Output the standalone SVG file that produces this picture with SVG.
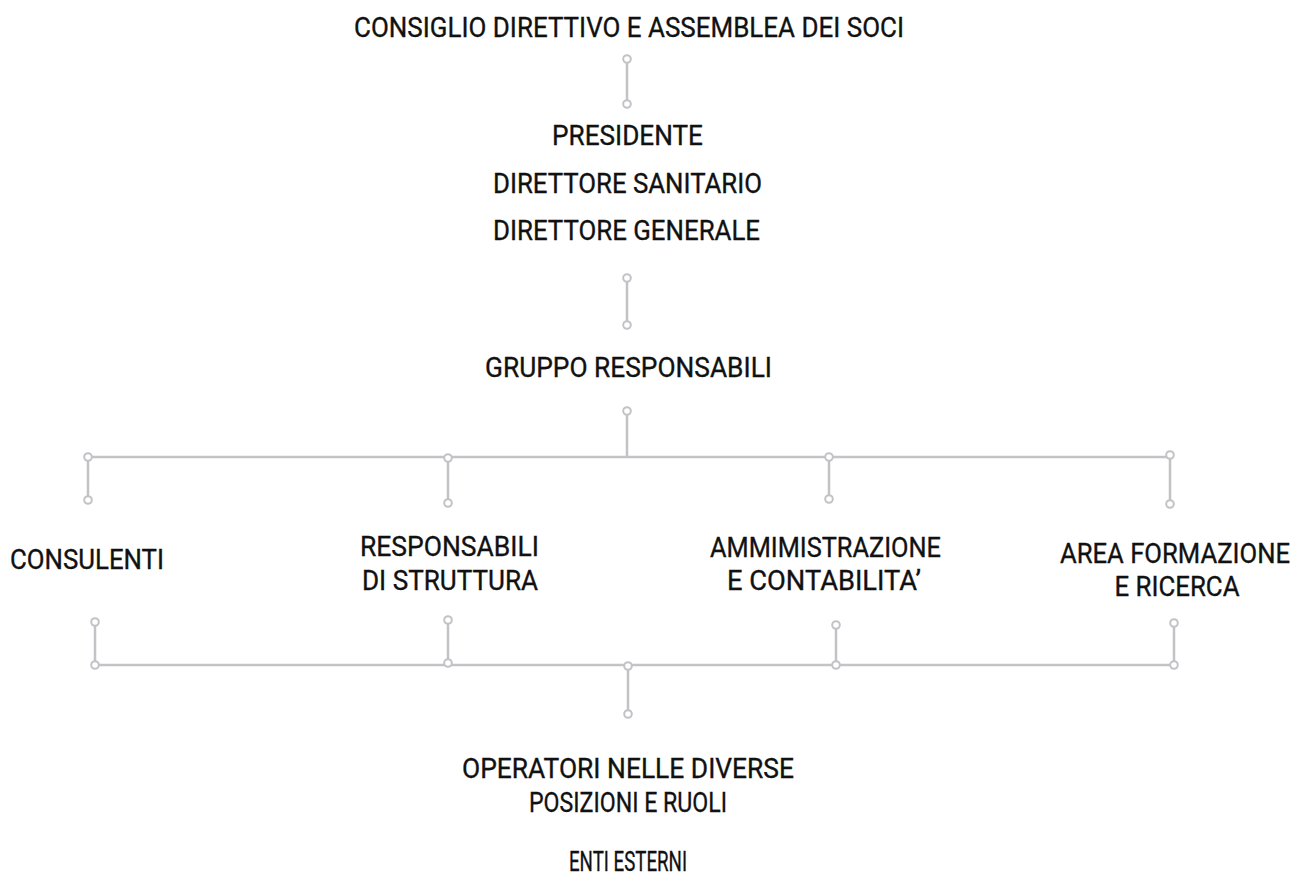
<svg xmlns="http://www.w3.org/2000/svg" width="1308" height="877" viewBox="0 0 1308 877">
<style>
text{font-family:Roboto,"DejaVu Sans Condensed","Liberation Sans",sans-serif;font-weight:400;font-size:28px;fill:#111;stroke:#111;stroke-width:0.35px;text-anchor:middle}
.c line{stroke:#c3c3c7;stroke-width:2.5}
.c circle{fill:#fff;stroke:#c3c3c7;stroke-width:2}
</style>
<rect width="1308" height="877" fill="#fff"/>
<g class="c" id="connectors">
<line x1="627" y1="59" x2="627" y2="104"/>
<line x1="627" y1="278" x2="627" y2="325"/>
<line x1="627" y1="411" x2="627" y2="457"/>
<line x1="88" y1="457" x2="1170" y2="457"/>
<line x1="88" y1="457" x2="88" y2="500"/>
<line x1="448" y1="458" x2="448" y2="503"/>
<line x1="829" y1="457" x2="829" y2="499"/>
<line x1="1170" y1="455" x2="1170" y2="504"/>
<line x1="95" y1="622" x2="95" y2="665"/>
<line x1="448" y1="620" x2="448" y2="663"/>
<line x1="836" y1="625" x2="836" y2="665"/>
<line x1="1174" y1="623" x2="1174" y2="665"/>
<line x1="95" y1="665" x2="1174" y2="665"/>
<line x1="628" y1="666" x2="628" y2="714"/>
<circle cx="627" cy="59" r="3.8"/><circle cx="627" cy="104" r="3.8"/>
<circle cx="627" cy="278" r="3.8"/><circle cx="627" cy="325" r="3.8"/>
<circle cx="627" cy="411" r="3.8"/>
<circle cx="88" cy="457" r="3.8"/><circle cx="88" cy="500" r="3.8"/>
<circle cx="448" cy="458" r="3.8"/><circle cx="448" cy="503" r="3.8"/>
<circle cx="829" cy="457" r="3.8"/><circle cx="829" cy="499" r="3.8"/>
<circle cx="1170" cy="455" r="3.8"/><circle cx="1170" cy="504" r="3.8"/>
<circle cx="95" cy="622" r="3.8"/><circle cx="95" cy="665" r="3.8"/>
<circle cx="448" cy="620" r="3.8"/><circle cx="448" cy="663" r="3.8"/>
<circle cx="836" cy="625" r="3.8"/><circle cx="836" cy="665" r="3.8"/>
<circle cx="1174" cy="623" r="3.8"/><circle cx="1174" cy="665" r="3.8"/>
<circle cx="628" cy="666" r="3.8"/><circle cx="628" cy="714" r="3.8"/>
</g>
<g id="consiglio"><text x="629" y="37" textLength="550" lengthAdjust="spacingAndGlyphs">CONSIGLIO DIRETTIVO E ASSEMBLEA DEI SOCI</text></g>
<g id="presidente"><text x="627.5" y="145" textLength="151" lengthAdjust="spacingAndGlyphs">PRESIDENTE</text></g>
<g id="dir-sanitario"><text x="627.5" y="193" textLength="269" lengthAdjust="spacingAndGlyphs">DIRETTORE SANITARIO</text></g>
<g id="dir-generale"><text x="626.5" y="240" textLength="267" lengthAdjust="spacingAndGlyphs">DIRETTORE GENERALE</text></g>
<g id="gruppo"><text x="628.5" y="377" textLength="287" lengthAdjust="spacingAndGlyphs">GRUPPO RESPONSABILI</text></g>
<g id="consulenti"><text x="87" y="569" textLength="154" lengthAdjust="spacingAndGlyphs">CONSULENTI</text></g>
<g id="resp-struttura"><text x="449.5" y="556" textLength="179" lengthAdjust="spacingAndGlyphs">RESPONSABILI</text><text x="450" y="590" textLength="176" lengthAdjust="spacingAndGlyphs">DI STRUTTURA</text></g>
<g id="amministrazione"><text x="825.5" y="557" textLength="231" lengthAdjust="spacingAndGlyphs">AMMIMISTRAZIONE</text><text x="824" y="590" textLength="194" lengthAdjust="spacingAndGlyphs">E CONTABILITA’</text></g>
<g id="formazione"><text x="1175" y="563" textLength="230" lengthAdjust="spacingAndGlyphs">AREA FORMAZIONE</text><text x="1177" y="596" textLength="125" lengthAdjust="spacingAndGlyphs">E RICERCA</text></g>
<g id="operatori"><text x="628" y="778" textLength="332" lengthAdjust="spacingAndGlyphs">OPERATORI NELLE DIVERSE</text><text x="628" y="812" textLength="198" lengthAdjust="spacingAndGlyphs">POSIZIONI E RUOLI</text></g>
<g id="enti"><text x="628" y="871" textLength="118" lengthAdjust="spacingAndGlyphs">ENTI ESTERNI</text></g>
</svg>
